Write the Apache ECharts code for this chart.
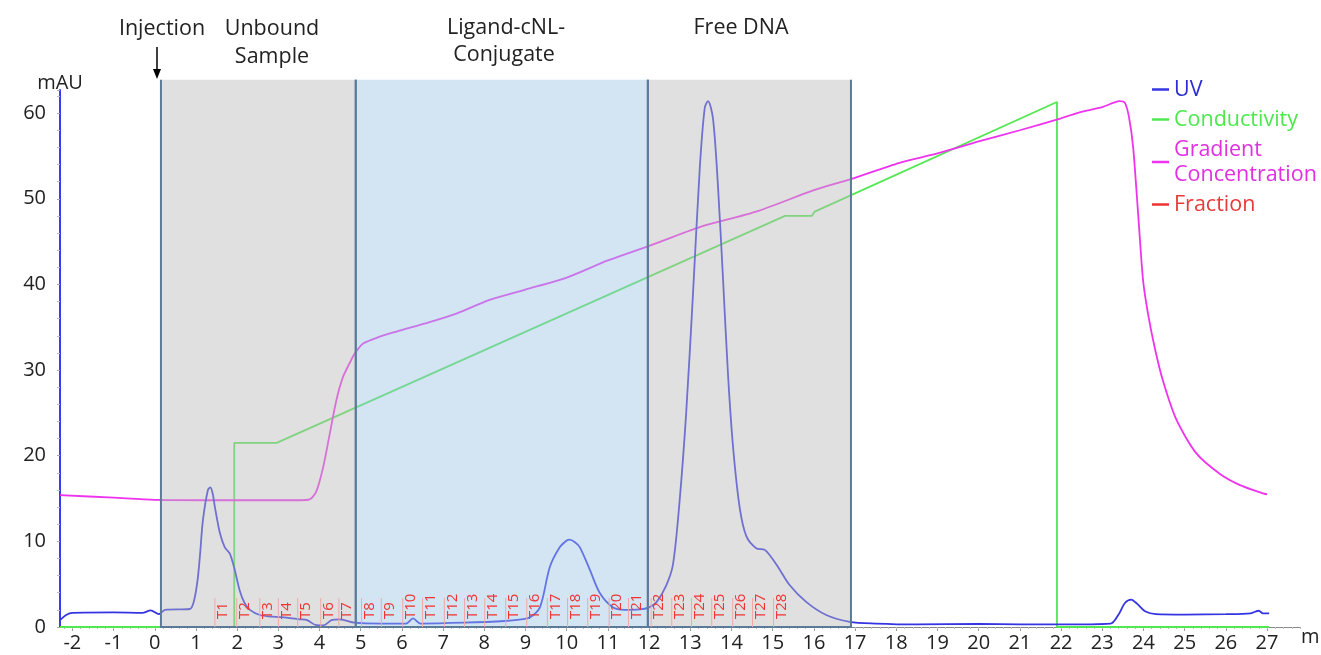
<!DOCTYPE html>
<html>
<head>
<meta charset="utf-8">
<script src="https://cdn.jsdelivr.net/npm/echarts@6/dist/echarts.min.js"></script>
<style>
html,body{margin:0;padding:0;background:#fff;}
#chart{width:1321px;height:655px;}
</style>
</head>
<body>
<div id="chart"></div>
<script>
// ---------- data ----------
const xTickLabels = [-2,-1,0,1,2,3,4,5,6,7,8,9,10,11,12,13,14,15,16,17,18,19,20,21,22,23,24,25,26,27];
const yTickLabels = [0,10,20,30,40,50,60];

const uvData = [
  [-2.3,0.8],[-2.15,1.4],[-2.0,1.65],[-1.0,1.7],[-0.3,1.65],[-0.1,1.95],[0.1,1.5],[0.25,2.0],
  [0.85,2.1],[0.95,3.0],[1.04,5.5],[1.1,8.5],[1.17,12.5],[1.29,16.0],[1.35,16.3],[1.41,15.5],
  [1.46,14.0],[1.58,11.0],[1.70,9.3],[1.82,8.6],[1.94,6.7],[2.06,4.3],[2.18,2.8],[2.31,2.0],
  [2.55,1.4],[2.87,1.2],[3.2,1.1],[3.52,0.9],[3.7,0.8],[3.9,0.25],[4.1,0.2],[4.29,0.8],
  [4.49,0.9],[4.85,0.5],[5.5,0.4],[6.1,0.4],[6.27,1.0],[6.45,0.4],[7.5,0.5],[8.5,0.7],
  [8.9,0.9],[9.1,1.1],[9.35,2.3],[9.59,7.0],[9.83,9.3],[10.0,10.1],[10.07,10.2],[10.2,9.9],
  [10.32,9.3],[10.56,6.7],[10.8,4.0],[11.12,2.3],[11.4,2.0],[11.77,2.05],[12.0,2.3],[12.18,2.9],
  [12.42,4.9],[12.58,7.3],[12.74,14.7],[12.9,25.0],[13.07,39.3],[13.23,53.6],[13.35,60.6],[13.43,61.4],
  [13.55,59.4],[13.67,51.6],[13.8,40.1],[13.92,29.1],[14.04,20.9],[14.2,13.9],[14.36,10.6],[14.6,9.2],
  [14.81,9.0],[15.09,7.3],[15.41,4.9],[15.82,2.9],[16.3,1.4],[16.87,0.6],[17.5,0.4],[18.5,0.3],
  [20.0,0.35],[21.0,0.3],[22.0,0.3],[23.2,0.4],[23.4,1.5],[23.55,2.8],[23.7,3.2],[23.85,2.7],
  [24.05,1.8],[24.3,1.5],[25.0,1.45],[26.0,1.5],[26.6,1.6],[26.8,1.9],[26.9,1.6],[27.05,1.6]
];

const conductivityData = [
  [-2.3,0],[1.93,0],[1.93,21.5],[2.96,21.5],[15.3,48.0],[15.95,48.0],[16.02,48.5],
  [21.9,61.3],[21.9,0],[27.05,0]
];

const gradientData = [
  [-2.3,15.4],[-1.0,15.1],[0.0,14.85],[2.0,14.8],[3.5,14.8],[3.76,14.9],[3.92,15.8],[4.09,18.7],
  [4.25,22.6],[4.41,26.5],[4.57,29.2],[4.73,30.8],[4.85,31.9],[5.06,33.1],[5.46,33.9],[5.87,34.5],
  [6.67,35.6],[7.32,36.6],[8.13,38.2],[9.0,39.4],[10.0,40.8],[11.0,42.8],[12.0,44.5],[13.23,46.7],
  [14.6,48.5],[16.0,51.0],[16.9,52.3],[18.08,54.2],[19.0,55.3],[20.0,56.7],[21.0,58.0],[22.0,59.4],
  [22.45,60.1],[23.0,60.7],[23.42,61.4],[23.55,61.2],[23.65,59.5],[23.75,56.0],[23.87,48.3],[23.99,40.5],
  [24.11,36.6],[24.27,32.7],[24.47,28.8],[24.8,24.2],[25.28,20.3],[25.85,17.9],[26.33,16.6],[26.9,15.6],[27.0,15.5]
];

const fractionNames = ['T1','T2','T3','T4','T5','T6','T7','T8','T9','T10','T11','T12','T13','T14',
  'T15','T16','T17','T18','T19','T20','T21','T22','T23','T24','T25','T26','T27','T28'];
const fractionStart = [1.46,1.99,2.55,3.0,3.47,4.03,4.47,5.02,5.5,6.02,6.5,7.03,7.52,8.01,
  8.52,9.03,9.53,10.02,10.51,11.03,11.5,12.05,12.55,13.03,13.52,14.03,14.51,15.02];

const regionStart = [0.15, 4.88, 11.97];
const regionEnd   = [4.88, 11.97, 16.9];
const regionKind  = ['gray', 'blue', 'gray'];
const regionTop   = 63.9;

// ---------- styles ----------
const FONT = '"Open Sans", "Noto Sans", sans-serif';
const C_UV = '#3434e2', C_COND = '#52e852', C_GRAD = '#ee33ee', C_FRAC = '#ee3333';
const regionFill = { gray: 'rgba(186,186,186,0.45)', blue: 'rgba(157,195,228,0.45)' };

const minorTicks = [];
for (let v = -22; v <= 278; v += 2) minorTicks.push(v / 10);

const chart = echarts.init(document.getElementById('chart'), null, { renderer: 'canvas' });

const option = {
  animation: false,
  backgroundColor: '#fff',
  grid: { left: 60, right: 21, top: 90, bottom: 28, containLabel: false, outerBoundsMode: 'none' },
  xAxis: [
    {
      type: 'value', min: -2.3, max: 27.8,
      name: 'ml', nameLocation: 'end', nameGap: 1,
      nameTextStyle: { fontSize: 20, fontFamily: FONT, color: '#222', align: 'left', verticalAlign: 'top' },
      axisLine: { show: true, onZero: false, lineStyle: { color: '#8a8a8a', width: 1 } },
      axisTick: { show: true, customValues: xTickLabels, length: 4, lineStyle: { color: '#999' } },
      axisLabel: { customValues: xTickLabels, fontSize: 20, fontFamily: FONT, color: '#222', margin: 6 },
      splitLine: { show: false }
    },
    {
      type: 'value', min: -2.3, max: 27.8, position: 'bottom',
      axisLine: { show: false, onZero: false },
      axisTick: { show: true, customValues: minorTicks, length: 2, lineStyle: { color: '#bbb' } },
      axisLabel: { show: false },
      splitLine: { show: false }
    }
  ],
  yAxis: {
    type: 'value', min: 0, max: 62.7, interval: 10,
    name: 'mAU', nameLocation: 'end', nameGap: -3,
    nameTextStyle: { fontSize: 20, fontFamily: FONT, color: '#222', align: 'center' },
    axisLine: { show: true, onZero: false, lineStyle: { color: '#3a3af0', width: 2 } },
    axisTick: { show: true, length: 3, lineStyle: { color: '#aaa' } },
    minorTick: { show: true, splitNumber: 5, length: 3, lineStyle: { color: '#bbb' } },
    axisLabel: { customValues: yTickLabels, fontSize: 20, fontFamily: FONT, color: '#222', margin: 14 },
    splitLine: { show: false }
  },
  legend: {
    orient: 'vertical', left: 1152, top: 77, itemGap: 5, padding: 0,
    itemWidth: 17, itemHeight: 2.5, icon: 'rect',
    formatter: n => n === 'Gradient Concentration' ? 'Gradient\nConcentration' : n,
    textStyle: { fontSize: 21.5, fontFamily: FONT, lineHeight: 25 },
    data: [
      { name: 'UV', textStyle: { color: '#2c2cd4' } },
      { name: 'Conductivity', textStyle: { color: '#4ee84e' } },
      { name: 'Gradient Concentration', textStyle: { color: '#e030e0' } },
      { name: 'Fraction', textStyle: { color: '#e83a3a' } }
    ],
    selectedMode: false
  },
  graphic: [
    { type: 'text', x: 162, y: 29, style: { text: 'Injection', font: '21.5px ' + FONT, fill: '#222', align: 'center', verticalAlign: 'middle' } },
    { type: 'line', shape: { x1: 157, y1: 47, x2: 157, y2: 72 }, style: { stroke: '#000', lineWidth: 1.5 } },
    { type: 'polygon', shape: { points: [[153, 69], [161, 69], [157, 79]] }, style: { fill: '#000' } },
    { type: 'text', x: 272, y: 29, style: { text: 'Unbound', font: '21.5px ' + FONT, fill: '#222', align: 'center', verticalAlign: 'middle' } },
    { type: 'text', x: 272, y: 57, style: { text: 'Sample', font: '21.5px ' + FONT, fill: '#222', align: 'center', verticalAlign: 'middle' } },
    { type: 'text', x: 506, y: 28, style: { text: 'Ligand-cNL-', font: '21.5px ' + FONT, fill: '#222', align: 'center', verticalAlign: 'middle' } },
    { type: 'text', x: 504, y: 55, style: { text: 'Conjugate', font: '21.5px ' + FONT, fill: '#222', align: 'center', verticalAlign: 'middle' } },
    { type: 'text', x: 741, y: 28, style: { text: 'Free DNA', font: '21.5px ' + FONT, fill: '#222', align: 'center', verticalAlign: 'middle' } }
  ],
  series: [
    {
      name: 'UV', type: 'line', data: uvData, showSymbol: false, z: 3,
      smooth: 0.3,
      color: C_UV, lineStyle: { color: C_UV, width: 1.8 }
    },
    {
      name: 'Conductivity', type: 'line', data: conductivityData, showSymbol: false, z: 2,
      color: C_COND, lineStyle: { color: C_COND, width: 1.8 }
    },
    {
      name: 'Gradient Concentration', type: 'line', data: gradientData, showSymbol: false, z: 2,
      smooth: 0.25,
      color: C_GRAD, lineStyle: { color: C_GRAD, width: 1.8 }
    },
    {
      name: 'Regions', type: 'custom', silent: true, z: 4, clip: false,
      data: regionStart.map((s, i) => [s, regionEnd[i], regionTop]),
      encode: { x: [0, 1], y: 2 },
      renderItem: (params, api) => {
        const p0 = api.coord([api.value(0), api.value(2)]);
        const p1 = api.coord([api.value(1), 0]);
        const kind = regionKind[params.dataIndex];
        return {
          type: 'group',
          children: [
            { type: 'rect', shape: { x: p0[0], y: p0[1], width: p1[0] - p0[0], height: p1[1] - p0[1] },
              style: { fill: regionFill[kind] } },
            { type: 'polyline', shape: { points: [[p0[0], p0[1]], [p0[0], p1[1]], [p1[0], p1[1]], [p1[0], p0[1]]] },
              style: { stroke: '#5a7a98', lineWidth: 2, fill: null } }
          ]
        };
      }
    },
    {
      name: 'Fraction', type: 'custom', silent: true, z: 5, clip: false,
      color: C_FRAC, itemStyle: { color: C_FRAC },
      data: fractionStart.map(s => [s, 0]),
      encode: { x: 0, y: 1 },
      renderItem: (params, api) => {
        const p = api.coord([api.value(0), 0]);
        return {
          type: 'group',
          children: [
            { type: 'line', shape: { x1: p[0], y1: p[1], x2: p[0], y2: p[1] - 29 },
              style: { stroke: '#f2a8a8', lineWidth: 1 } },
            { type: 'text', x: p[0] + 8, y: p[1] - 8, rotation: Math.PI / 2,
              style: { text: fractionNames[params.dataIndex], fill: '#f03434', font: '15px ' + FONT,
                       align: 'left', verticalAlign: 'middle' } }
          ]
        };
      }
    }
  ]
};
chart.setOption(option);
</script>
</body>
</html>
